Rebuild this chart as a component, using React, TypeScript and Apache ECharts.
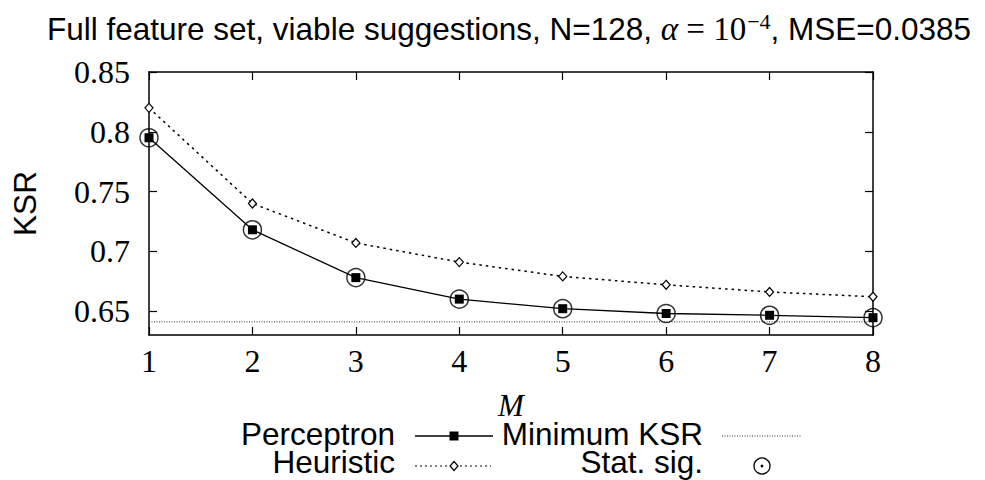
import React, { useEffect, useRef } from "react";
import * as echarts from "echarts";

// ---- Data ----
const mValues = [1, 2, 3, 4, 5, 6, 7, 8];
const perceptronKSR = [0.795, 0.718, 0.678, 0.66, 0.652, 0.648, 0.6465, 0.6445];
const heuristicKSR = [0.82, 0.74, 0.707, 0.691, 0.679, 0.672, 0.666, 0.662];
const minimumKSR = 0.641;
const statSigFlags = [true, true, true, true, true, true, true, true];
const yTickValues = [0.65, 0.7, 0.75, 0.8, 0.85];
const xTickValues = [1, 2, 3, 4, 5, 6, 7, 8];
const yMin = 0.63;
const yMax = 0.85;

const SANS = "Liberation Sans";
const SERIF = "Liberation Serif";
const FS = 31.5;

export default function App() {
  const ref = useRef<HTMLDivElement>(null);

  useEffect(() => {
    if (!ref.current) return;
    const chart = echarts.init(ref.current, undefined, { renderer: "svg" });

    const perceptronData = mValues.map((m, i) => [m, perceptronKSR[i]]);
    const heuristicData = mValues.map((m, i) => [m, heuristicKSR[i]]);
    const minData = [
      [xTickValues[0], minimumKSR],
      [xTickValues[xTickValues.length - 1], minimumKSR],
    ];
    const sigData = mValues
      .map((m, i) => (statSigFlags[i] ? [m, perceptronKSR[i]] : null))
      .filter((d) => d !== null);

    const axisLineStyle = { color: "#000", width: 1.5 };
    const tickStyle = { color: "#000", width: 1.2 };

    const legendText = (text: string, x: number, y: number) => ({
      type: "text",
      x,
      y,
      silent: true,
      style: {
        text,
        fill: "#000",
        fontFamily: SANS,
        fontSize: FS,
        fontWeight: "normal",
        lineHeight: 24,
        align: "right",
        verticalAlign: "middle",
        textAlign: "right",
        textVerticalAlign: "middle",
      },
    });

    const row1 = 434;
    const row2 = 462;

    const option: any = {
      animation: false,
      backgroundColor: "#fff",
      title: {
        left: 42,
        top: 4,
        text:
          "{t|Full feature set, viable suggestions, N=128, }{a|α}{s| = 10}{sup|−4}{t|, MSE=0.0385}",
        textStyle: {
          fontWeight: "normal",
          rich: {
            t: { fontFamily: SANS, fontSize: FS, fontWeight: "normal", lineHeight: 36, color: "#000", verticalAlign: "bottom" },
            a: { fontFamily: SERIF, fontStyle: "italic", fontWeight: "normal", fontSize: 33, lineHeight: 36, color: "#000", verticalAlign: "bottom" },
            s: { fontFamily: SERIF, fontSize: 33, fontWeight: "normal", lineHeight: 36, color: "#000", verticalAlign: "bottom" },
            sup: { fontFamily: SERIF, fontSize: 22, fontWeight: "normal", lineHeight: 22, color: "#000", verticalAlign: "bottom", padding: [0, 0, 13, 1] },
          },
        },
      },
      grid: { left: 149, right: 112, top: 72, bottom: 145, containLabel: false },
      xAxis: [
        {
          type: "value",
          min: 1,
          max: 8,
          interval: 1,
          name: "M",
          nameLocation: "middle",
          nameGap: 70,
          nameTextStyle: {
            fontFamily: SERIF,
            fontStyle: "italic",
            fontSize: 31,
            lineHeight: 22,
            color: "#000",
            verticalAlign: "middle",
          },
          axisLine: { show: true, lineStyle: axisLineStyle },
          axisTick: { show: true, inside: true, length: 8, lineStyle: tickStyle },
          axisLabel: {
            fontFamily: SERIF,
            fontSize: 32,
            color: "#000",
            margin: 26,
            verticalAlign: "middle",
          },
          splitLine: { show: false },
        },
        {
          type: "value",
          position: "top",
          min: 1,
          max: 8,
          interval: 1,
          axisLine: { show: true, lineStyle: axisLineStyle },
          axisTick: { show: true, inside: true, length: 8, lineStyle: tickStyle },
          axisLabel: { show: false },
          splitLine: { show: false },
        },
      ],
      yAxis: [
        {
          type: "value",
          min: yMin,
          max: yMax,
          name: "KSR",
          nameLocation: "middle",
          nameRotate: 90,
          nameGap: 124,
          nameTextStyle: {
            fontFamily: SANS,
            fontSize: FS,
            color: "#000",
            align: "center",
            verticalAlign: "middle",
          },
          axisLine: { show: true, lineStyle: axisLineStyle },
          axisTick: {
            show: true,
            inside: true,
            length: 8,
            lineStyle: tickStyle,
            customValues: yTickValues,
          },
          axisLabel: {
            fontFamily: SERIF,
            fontSize: 32,
            color: "#000",
            margin: 19,
            customValues: yTickValues,
            formatter: (v: number) => String(parseFloat(v.toFixed(2))),
          },
          splitLine: { show: false },
        },
        {
          type: "value",
          position: "right",
          min: yMin,
          max: yMax,
          axisLine: { show: true, lineStyle: axisLineStyle },
          axisTick: {
            show: true,
            inside: true,
            length: 8,
            lineStyle: tickStyle,
            customValues: yTickValues,
          },
          axisLabel: { show: false, customValues: yTickValues },
          splitLine: { show: false },
        },
      ],
      series: [
        {
          name: "Minimum KSR",
          type: "line",
          data: minData,
          symbol: "none",
          silent: true,
          lineStyle: { color: "#333", width: 1, type: [1, 1.5] },
          z: 1,
        },
        {
          name: "Heuristic",
          type: "line",
          data: heuristicData,
          symbol: "diamond",
          symbolSize: [8, 9],
          silent: true,
          lineStyle: { color: "#000", width: 1.5, type: [2.5, 4] },
          itemStyle: { color: "#fff", borderColor: "#000", borderWidth: 1.2 },
          z: 2,
        },
        {
          name: "Perceptron",
          type: "line",
          data: perceptronData,
          symbol: "rect",
          symbolSize: 9,
          silent: true,
          lineStyle: { color: "#000", width: 1.3 },
          itemStyle: { color: "#000" },
          z: 3,
        },
        {
          name: "Stat. sig.",
          type: "scatter",
          data: sigData,
          symbol: "circle",
          symbolSize: 18,
          silent: true,
          itemStyle: { color: "rgba(0,0,0,0)", borderColor: "#000", borderWidth: 1.5 },
          z: 4,
        },
      ],
      graphic: [
        legendText("Perceptron", 395, row1),
        {
          type: "line",
          silent: true,
          shape: { x1: 415, y1: row1 + 2, x2: 493, y2: row1 + 2 },
          style: { stroke: "#000", lineWidth: 1.3 },
        },
        {
          type: "rect",
          silent: true,
          shape: { x: 449.5, y: row1 + 2 - 4.5, width: 9, height: 9 },
          style: { fill: "#000" },
        },
        legendText("Minimum KSR", 703, row1),
        {
          type: "line",
          silent: true,
          shape: { x1: 722, y1: row1 + 2, x2: 802, y2: row1 + 2 },
          style: { stroke: "#333", lineWidth: 1, lineDash: [1, 1.5] },
        },
        legendText("Heuristic", 395, row2),
        {
          type: "line",
          silent: true,
          shape: { x1: 415, y1: row2 + 4, x2: 491, y2: row2 + 4 },
          style: { stroke: "#000", lineWidth: 1.2, lineDash: [2, 3] },
        },
        {
          type: "polygon",
          silent: true,
          shape: {
            points: [
              [454, row2 + 4 - 4.5],
              [458, row2 + 4],
              [454, row2 + 4 + 4.5],
              [450, row2 + 4],
            ],
          },
          style: { fill: "#fff", stroke: "#000", lineWidth: 1.2 },
        },
        legendText("Stat. sig.", 703, row2),
        {
          type: "circle",
          silent: true,
          shape: { cx: 762, cy: row2 + 4, r: 8 },
          style: { fill: "none", stroke: "#000", lineWidth: 1.3 },
        },
        {
          type: "circle",
          silent: true,
          shape: { cx: 762, cy: row2 + 4, r: 1.4 },
          style: { fill: "#000" },
        },
      ],
    };

    chart.setOption(option);
    return () => chart.dispose();
  }, []);

  return (
    <div
      ref={ref}
      style={{ position: "absolute", left: 0, top: 0, width: 985, height: 480, background: "#fff" }}
    />
  );
}
